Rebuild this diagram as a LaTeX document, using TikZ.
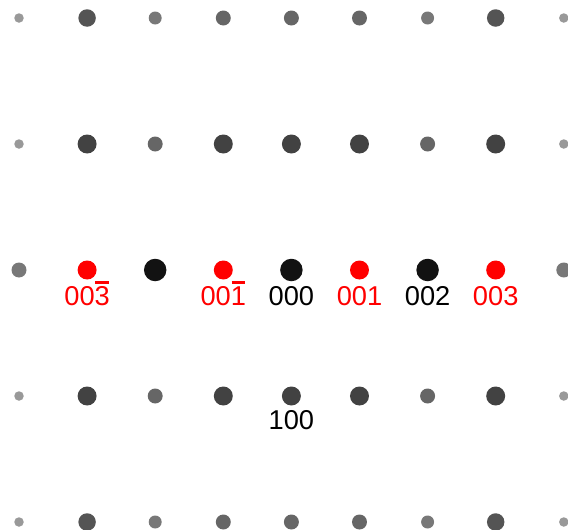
\documentclass[tikz,border=0pt]{standalone}
\usepackage{fontspec}
\setmainfont{Liberation Sans}
\usepackage{xcolor}
\usepackage{tikz}

\newcommand{\nbar}[1]{\makebox[0pt][l]{\hspace{0.03em}\rule[0.79em]{0.5em}{0.09em}}#1}

\begin{document}
\begin{tikzpicture}[
    spot/.style={circle, inner sep=0pt, draw=none},
    tiny/.style={spot, minimum size=0.19cm, fill=black!40},
    small/.style={spot, minimum size=0.26cm, fill=black!53},
    medium/.style={spot, minimum size=0.30cm, fill=black!60},
    outer/.style={spot, minimum size=0.35cm, fill=black!67},
    strong/.style={spot, minimum size=0.38cm, fill=black!74},
    side/.style={spot, minimum size=0.30cm, fill=black!53},
    forb/.style={spot, minimum size=0.38cm, fill=red},
    main/.style={spot, minimum size=0.45cm, fill=black!93},
    index/.style={font=\fontsize{15.5}{18}\selectfont, inner sep=0pt, text height=0.72em, text depth=0pt}
]
    \useasboundingbox (0,0) rectangle (11.36,10.58);

    % Row a (top)
    \foreach \s [count=\i from 0] in {tiny,outer,small,medium,medium,medium,small,outer,tiny}
        \node[\s] (a-\i) at ({0.38+1.362*\i}, 10.22) {};
    % Row b
    \foreach \s [count=\i from 0] in {tiny,strong,medium,strong,strong,strong,medium,strong,tiny}
        \node[\s] (b-\i) at ({0.38+1.362*\i}, 7.70) {};
    % Row c: systematic row
    \foreach \s [count=\i from 0] in {side,forb,main,forb,main,forb,main,forb,side}
        \node[\s] (c-\i) at ({0.38+1.362*\i}, 5.18) {};
    % Row d
    \foreach \s [count=\i from 0] in {tiny,strong,medium,strong,strong,strong,medium,strong,tiny}
        \node[\s] (d-\i) at ({0.38+1.362*\i}, 2.66) {};
    % Row e (bottom)
    \foreach \s [count=\i from 0] in {tiny,outer,small,medium,medium,medium,small,outer,tiny}
        \node[\s] (e-\i) at ({0.38+1.362*\i}, 0.14) {};

    % Indices
    \node[index, red] (i-00m3) at ([yshift=-0.58cm]c-1) {00\nbar{3}};
    \node[index, red] (i-00m1) at ([yshift=-0.58cm]c-3) {00\nbar{1}};
    \node[index] (i-000) at ([yshift=-0.58cm]c-4) {000};
    \node[index, red] (i-001) at ([yshift=-0.58cm]c-5) {001};
    \node[index] (i-002) at ([yshift=-0.58cm]c-6) {002};
    \node[index, red] (i-003) at ([yshift=-0.58cm]c-7) {003};
    \node[index] (i-100) at ([yshift=-0.54cm]d-4) {100};

\end{tikzpicture}
\end{document}
